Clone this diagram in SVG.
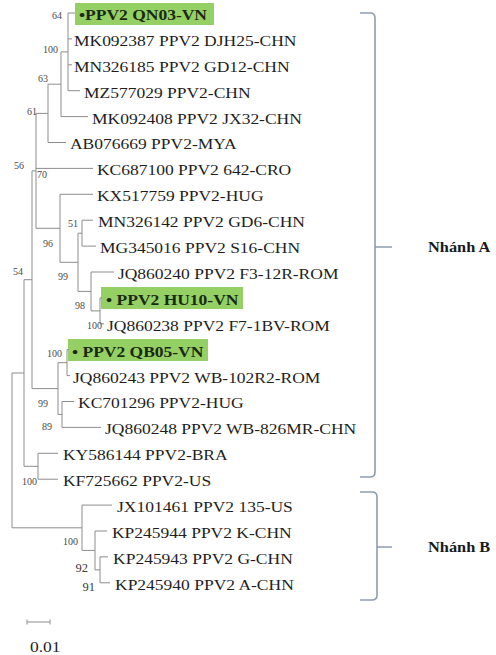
<svg xmlns="http://www.w3.org/2000/svg" width="496" height="655" viewBox="0 0 496 655">
<style>
.br{fill:none;stroke:#8d8d8d;stroke-width:1}
.bk{fill:none;stroke:#8f9cae;stroke-width:1.6}
.lf{font-family:"Liberation Serif","Times New Roman",serif;font-size:15px;fill:#1e1e1e}
.hl{font-family:"Liberation Serif","Times New Roman",serif;font-size:15px;font-weight:bold;fill:#1a2a12}
.bs{font-family:"Liberation Serif","Times New Roman",serif;font-size:10px;fill:#4a4a4a;text-anchor:end}
.bb{font-family:"Liberation Serif","Times New Roman",serif;font-size:12.5px;fill:#3a3a3a;text-anchor:end}
.cl{font-family:"Liberation Serif","Times New Roman",serif;font-size:14px;font-weight:bold;fill:#1a1a1a}
.box{fill:#95d064}
</style>
<rect width="496" height="655" fill="#ffffff"/>
<g id="highlights">
<rect class="box" x="75" y="3" width="139" height="22"/>
<rect class="box" x="101" y="287" width="142" height="22"/>
<rect class="box" x="68" y="339" width="140" height="22"/>
</g>
<g id="connectors">
<path class="br" d="M68,13V90.7 M68,13H75 M68,38.9H72 M68,64.8H72 M68,90.7H80 M61,51.9H68 M61,51.9V116.6 M61,116.6H88 M48,84.2H61 M48,84.2V142.5 M48,142.5H66 M36,113.4H48 M36,113.4V228.3 M36,168.4H93 M36,228.3H60 M60,194.3V262.3 M60,194.3H93 M60,262.3H78 M78,233.2V291.4 M78,233.2H82 M82,220.2V246.1 M82,220.2H93 M82,246.1H96 M78,291.4H91 M91,272V310.9 M91,272H114 M91,310.9H100 M100,297.9V323.8 M100,297.9H102 M100,323.8H104"/>
<path class="br" d="M32,170.9H36 M32,170.9V388.6 M32,388.6H58 M58,362.7V414.5 M58,362.7H67 M67,349.7V375.6 M67,349.7H69 M67,375.6H70 M58,414.5H62 M62,401.5V427.4 M62,401.5H74 M62,427.4H101"/>
<path class="br" d="M24,279.7H32 M24,279.7V466.3 M24,466.3H38 M38,453.3V479.2 M38,453.3H58 M38,479.2H58 M12,373H24 M12,373V527.8 M12,527.8H82"/>
<path class="br" d="M82,505.1V550.4 M82,505.1H112 M82,550.4H95 M95,531V569.9 M95,531H107 M95,569.9H100 M100,556.9V582.8 M100,556.9H108 M100,582.8H110"/>
</g>
<g id="leaves" transform="scale(1.1667,1)">
<text id="n_QN03" class="hl" x="67.7" y="20">•PPV2 QN03-VN</text>
<text id="n_MK092387" class="lf" x="63.4" y="45.9">MK092387 PPV2 DJH25-CHN</text>
<text id="n_MN326185" class="lf" x="63.4" y="71.8">MN326185 PPV2 GD12-CHN</text>
<text id="n_MZ577029" class="lf" x="72" y="97.7">MZ577029 PPV2-CHN</text>
<text id="n_MK092408" class="lf" x="78.9" y="123.6">MK092408 PPV2 JX32-CHN</text>
<text id="n_AB076669" class="lf" x="60" y="149.5">AB076669 PPV2-MYA</text>
<text id="n_KC687100" class="lf" x="83.1" y="175.4">KC687100 PPV2 642-CRO</text>
<text id="n_KX517759" class="lf" x="83.1" y="201.3">KX517759 PPV2-HUG</text>
<text id="n_MN326142" class="lf" x="84" y="227.2">MN326142 PPV2 GD6-CHN</text>
<text id="n_MG345016" class="lf" x="85.7" y="253.1">MG345016 PPV2 S16-CHN</text>
<text id="n_JQ860240" class="lf" x="101.1" y="279">JQ860240 PPV2 F3-12R-ROM</text>
<text id="n_HU10" class="hl" x="90.9" y="304.9">• PPV2 HU10-VN</text>
<text id="n_JQ860238" class="lf" x="91.7" y="330.8">JQ860238 PPV2 F7-1BV-ROM</text>
<text id="n_QB05" class="hl" x="61.7" y="356.7">• PPV2 QB05-VN</text>
<text id="n_JQ860243" class="lf" x="62.6" y="382.6">JQ860243 PPV2 WB-102R2-ROM</text>
<text id="n_KC701296" class="lf" x="66.9" y="408.5">KC701296 PPV2-HUG</text>
<text id="n_JQ860248" class="lf" x="90" y="434.4">JQ860248 PPV2 WB-826MR-CHN</text>
<text id="n_KY586144" class="lf" x="54" y="460.3">KY586144 PPV2-BRA</text>
<text id="n_KF725662" class="lf" x="54" y="486.2">KF725662 PPV2-US</text>
<text id="n_JX101461" class="lf" x="100.3" y="512.1">JX101461 PPV2 135-US</text>
<text id="n_KP245944" class="lf" x="96" y="538">KP245944 PPV2 K-CHN</text>
<text id="n_KP245943" class="lf" x="96.9" y="563.9">KP245943 PPV2 G-CHN</text>
<text id="n_KP245940" class="lf" x="98.6" y="589.8">KP245940 PPV2 A-CHN</text>
<text id="scale_label" class="lf" x="25.7" y="652">0.01</text>
</g>
<g id="bootstrap">
<text class="bs" x="62" y="19">64</text>
<text class="bs" x="58" y="53">100</text>
<text class="bs" x="48" y="82">63</text>
<text class="bs" x="37" y="115">61</text>
<text class="bs" x="24" y="169">56</text>
<text class="bs" x="47" y="178">70</text>
<text class="bs" x="78" y="227">51</text>
<text class="bs" x="53" y="247">96</text>
<text class="bs" x="23" y="275">54</text>
<text class="bs" x="68" y="280">99</text>
<text class="bs" x="85" y="309">98</text>
<text class="bs" x="102" y="329">100</text>
<text class="bs" x="62" y="357">100</text>
<text class="bs" x="48" y="407">99</text>
<text class="bs" x="52" y="430">89</text>
<text class="bs" x="37" y="485">100</text>
<text class="bs" x="78" y="545">100</text>
<text class="bb" x="88" y="572">92</text>
<text class="bb" x="95" y="591">91</text>
</g>
<g id="scale_bar">
<path class="br" d="M27,622H50 M27,619.5V624.5 M50,619.5V624.5"/>
</g>
<g id="clade_A">
<path class="bk" d="M360,13H370Q375,13 375,18V472Q375,477 370,477H360 M375,247H392"/>
<text class="cl" transform="scale(1.1667,1)" x="366.9" y="252">Nhánh A</text>
</g>
<g id="clade_B">
<path class="bk" d="M360,492H372Q377,492 377,497V595Q377,600 372,600H360 M377,547H392"/>
<text class="cl" transform="scale(1.1667,1)" x="366.9" y="552">Nhánh B</text>
</g>
</svg>
